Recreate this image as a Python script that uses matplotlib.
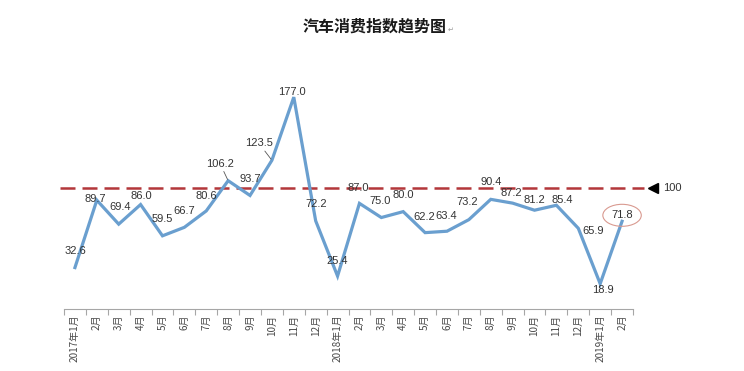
#!/usr/bin/env python3
# -*- coding: utf-8 -*-
"""汽车消费指数趋势图 (2017.1 - 2019.2)"""

import numpy as np
import matplotlib
matplotlib.use("Agg")
import matplotlib.pyplot as plt
import matplotlib.transforms as mtransforms

plt.rcParams['font.family'] = ['Noto Sans CJK SC', 'DejaVu Sans']

# ====== 数据 ======
months = ["2017年1月", "2月", "3月", "4月", "5月", "6月", "7月", "8月", "9月",
          "10月", "11月", "12月", "2018年1月", "2月", "3月", "4月", "5月",
          "6月", "7月", "8月", "9月", "10月", "11月", "12月", "2019年1月", "2月"]
index_vals = [32.6, 89.7, 69.4, 86.0, 59.5, 66.7, 80.6, 106.2, 93.7, 123.5,
              177.0, 72.2, 25.4, 87.0, 75.0, 80.0, 62.2, 63.4, 73.2, 90.4,
              87.2, 81.2, 85.4, 65.9, 18.9, 71.8]
baseline = 100
# ==================

# 标签偏移 (像素)，仿照原图摆放
label_offsets = [(0, 17), (-2, 1), (1, 17), (1, 9), (0, 17), (0, 16), (0, 15),
                 (-8, 17), (0, 16), (-13, 17), (-2, 5), (1, 17), (0, 15),
                 (-1, 15), (-1, 17), (0, 17), (-1, 16), (-1, 15), (-2, 18),
                 (0, 17), (-1, 10), (0, 10), (6, 5), (15, -3), (3, -6), (0, 6)]
leader_idx = {7, 9}
circled_idx = {25}

LINE_C = "#6a9fcf"
DASH_C = "#b3373a"
TXT_C = "#333333"

fig = plt.figure(figsize=(7.44, 3.71), dpi=100)
ax = fig.add_axes([64 / 744, 1 - 309 / 371, 569 / 744, 239 / 371])

x = np.arange(len(index_vals))
ax.plot(x, index_vals, color=LINE_C, lw=2.3, solid_joinstyle="miter", zorder=3)

# 100 基准线 + 三角标记
trans = mtransforms.blended_transform_factory(ax.transAxes, ax.transData)
ax.plot([-0.007, 1.02], [baseline, baseline], transform=trans, color=DASH_C,
        lw=1.8, dashes=(6, 2.8), clip_on=False, zorder=2)
ax.plot([1.035], [baseline], transform=trans, marker="<", ms=7, color="black",
        clip_on=False, zorder=4)
ax.text(1.053, baseline, str(baseline), transform=trans, ha="left", va="center",
        fontsize=8, color=TXT_C, family=["Liberation Sans", "DejaVu Sans"])

# 数据标签
for i, v in enumerate(index_vals):
    dx, dy = label_offsets[i]
    kw = {}
    if i in leader_idx:
        kw["arrowprops"] = dict(arrowstyle="-", color="#555555", lw=0.6,
                                shrinkA=0, shrinkB=1)
    if i in circled_idx:
        kw["bbox"] = dict(boxstyle="ellipse,pad=0.25", fc="none",
                          ec="#d99a90", lw=0.8)
    ax.annotate(f"{v:.1f}", xy=(i, v), xytext=(dx, dy),
                textcoords="offset pixels", ha="center", va="center",
                fontsize=8, color=TXT_C,
                family=["Liberation Sans", "DejaVu Sans"], zorder=5, **kw)

ax.set_xlim(-0.5, len(index_vals) - 0.5)
ax.set_ylim(-2.5, 200)

for s in ["top", "right", "left"]:
    ax.spines[s].set_visible(False)
ax.spines["bottom"].set_color("#a6a6a6")
ax.spines["bottom"].set_linewidth(0.8)
ax.set_yticks([])

ax.set_xticks(x)
ax.set_xticklabels(months, rotation=90, fontsize=7.2, color="#4a4a4a")
ax.tick_params(axis="x", which="major", length=0, pad=4)
ax.set_xticks(np.arange(len(index_vals) + 1) - 0.5, minor=True)
ax.tick_params(axis="x", which="minor", length=4, color="#a6a6a6", width=0.8)

fig.text(375 / 744, 1 - 27 / 371, "汽车消费指数趋势图", ha="center", va="center",
         fontsize=11.5, fontweight="bold", color="#1a1a1a")
fig.text(451 / 744, 1 - 30 / 371, "↵", ha="center", va="center", fontsize=5,
         color="#999999", family=["DejaVu Sans"])

fig.savefig("out.png", dpi=100)
